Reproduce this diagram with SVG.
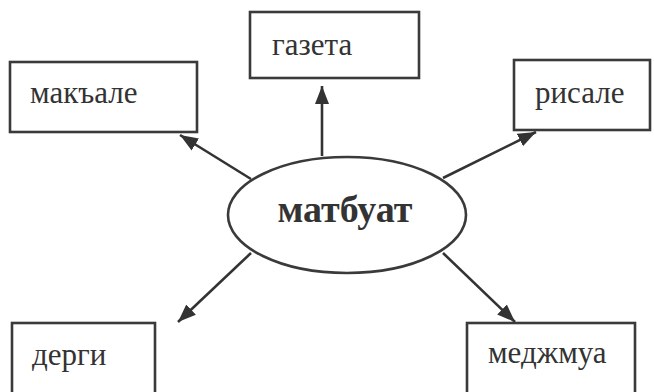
<svg xmlns="http://www.w3.org/2000/svg" width="654" height="392" viewBox="0 0 654 392">
<style>
.box{fill:#fff;stroke:#3a3a3a;stroke-width:2.6}
.lbl{font-family:"Liberation Serif","Times New Roman",serif;font-size:31px;fill:#333}
.main{font-family:"Liberation Serif","Times New Roman",serif;font-size:38px;font-weight:bold;fill:#333}
.con{stroke:#333;stroke-width:2.6;fill:none}
</style>
<defs>
<marker id="ah" markerUnits="userSpaceOnUse" markerWidth="20" markerHeight="16" refX="18" refY="8" orient="auto">
<path d="M0,1 L18,8 L0,15 Z" fill="#333"/>
</marker>
</defs>
<rect width="654" height="392" fill="#fff"/>
<g id="connectors">
<line class="con" x1="322" y1="156" x2="322" y2="86" marker-end="url(#ah)"/>
<line class="con" x1="251" y1="179" x2="180" y2="135" marker-end="url(#ah)"/>
<line class="con" x1="443" y1="178" x2="536" y2="132" marker-end="url(#ah)"/>
<line class="con" x1="251" y1="253" x2="178" y2="322" marker-end="url(#ah)"/>
<line class="con" x1="443" y1="253" x2="515" y2="322" marker-end="url(#ah)"/>
</g>
<g id="matbuat">
<ellipse class="box" cx="347" cy="215" rx="119" ry="58"/>
<text class="main" x="345" y="222" text-anchor="middle">матбуат</text>
</g>
<g id="gazeta">
<rect class="box" x="250" y="12" width="169" height="66"/>
<text class="lbl" x="272" y="55">газета</text>
</g>
<g id="makale">
<rect class="box" x="10" y="62" width="187" height="70"/>
<text class="lbl" x="30" y="103">макъале</text>
</g>
<g id="risale">
<rect class="box" x="514" y="60" width="136" height="70"/>
<text class="lbl" x="535" y="103">рисале</text>
</g>
<g id="dergi">
<rect class="box" x="12" y="323" width="143" height="80"/>
<text class="lbl" x="32" y="365">дерги</text>
</g>
<g id="mecmua">
<rect class="box" x="467" y="323" width="168" height="80"/>
<text class="lbl" x="488" y="363">меджмуа</text>
</g>
</svg>
